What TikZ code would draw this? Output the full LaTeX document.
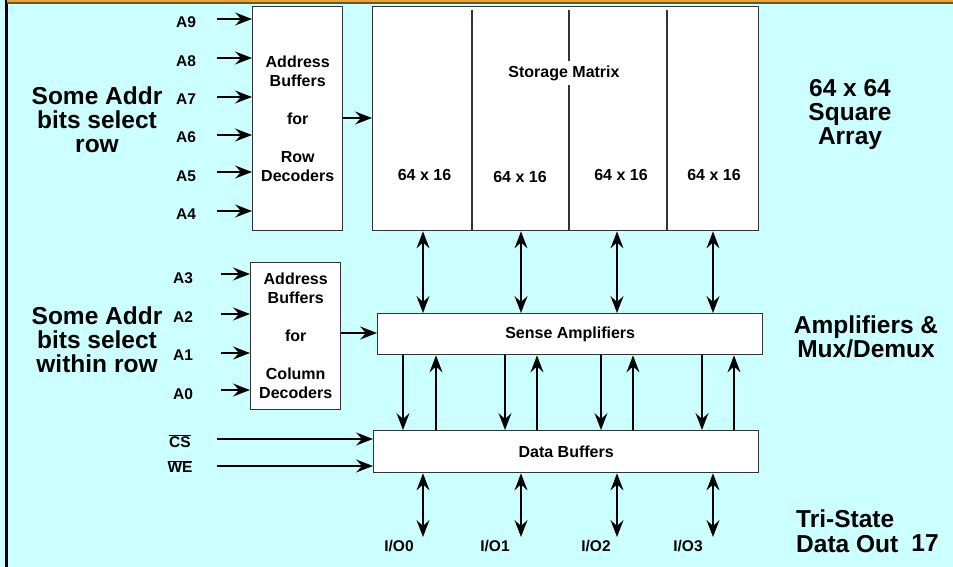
\documentclass[tikz,border=0pt]{standalone}
\usepackage{fontspec}
\setmainfont{Liberation Sans}
\usetikzlibrary{arrows.meta}
\definecolor{bg}{HTML}{CCFFFF}
\definecolor{bandO}{HTML}{F0A030}
\definecolor{bandD}{HTML}{6B5A1E}
\definecolor{edgec}{HTML}{333333}
\newcommand\fmid{\fontsize{16}{19}\selectfont\bfseries}
\newcommand\fbig{\fontsize{24.5}{24}\selectfont\bfseries}
\newcommand\flab{\fontsize{15.5}{18}\selectfont\bfseries}
\begin{document}
\begin{tikzpicture}[x=1pt,y=-1pt,
  box/.style={draw=edgec, line width=1.4pt, fill=white, anchor=north west, inner sep=0pt, align=center, font=\fmid},
  lab/.style={inner sep=0pt, font=\flab},
  midtext/.style={inner sep=0pt, font=\fmid},
  bigtext/.style={inner sep=0pt, font=\fbig, align=center},
  arr/.style={-{Stealth[length=17pt,width=13pt,inset=6pt]}, line width=1.3pt},
  dbl/.style={{Stealth[length=17pt,width=13pt,inset=6pt]}-{Stealth[length=17pt,width=13pt,inset=6pt]}, line width=1.3pt},
  divider/.style={draw=edgec, line width=1.4pt}]
% background and frame
\useasboundingbox (0,0) rectangle (953,567);
\fill[bg] (0,0) rectangle (953,567);
\fill[black] (4.5,0) rectangle (7.5,567);
\fill[bandO] (7,0) rectangle (953,1.6);
\fill[bandD] (7,1.6) rectangle (953,4);

% boxes
\node[box, minimum width=90pt, minimum height=224pt] (rowbuf) at (252,6)
  {Address\\Buffers\\[19pt]for\\[19pt]Row\\Decoders};
\node[box, minimum width=386pt, minimum height=224pt] (mat) at (372,6) {};
\node[box, minimum width=90pt, minimum height=147pt] (colbuf) at (250,262)
  {Address\\Buffers\\[19pt]for\\[19pt]Column\\Decoders};
\node[box, minimum width=385pt, minimum height=41pt] (sense) at (377,313) {Sense Amplifiers};
\node[box, minimum width=385pt, minimum height=42pt] (data) at (373,430) {Data Buffers};

% matrix dividers and texts
\draw[divider] (472,10) -- (472,0 |- mat.south);
\draw[divider] (569,10) -- (569,0 |- mat.south);
\draw[divider] (667,10) -- (667,0 |- mat.south);
\node[midtext, fill=white, inner ysep=5pt] (smat) at (564,73) {Storage Matrix};
\node[midtext] (m1) at (424.5,175) {64 x 16};
\node[midtext] (m2) at (520,177) {64 x 16};
\node[midtext] (m3) at (621,175) {64 x 16};
\node[midtext] (m4) at (714,175) {64 x 16};

% row address inputs
\foreach \n/\ya/\yl in {9/19/22, 8/58/61, 7/97/99, 6/135/137, 5/172/176, 4/211/214}{
  \node[lab] (a\n) at (186,\yl) {A\n};
  \coordinate (sa\n) at (217,\ya);
  \draw[arr] (sa\n) -- (sa\n -| rowbuf.west);
}
% column address inputs
\foreach \n/\ya/\yl in {3/274/278, 2/314/317, 1/353/355, 0/390/394}{
  \node[lab] (a\n) at (183,\yl) {A\n};
  \coordinate (sa\n) at (221,\ya);
  \draw[arr] (sa\n) -- (sa\n -| colbuf.west);
}
% control inputs
\node[lab] (cs) at (180,441) {$\overline{\mbox{CS}}$};
\node[lab] (we) at (180,466.5) {$\overline{\mbox{WE}}$};
\coordinate (scs) at (217,439);
\coordinate (swe) at (217,466);
\draw[arr] (scs) -- (scs -| data.west);
\draw[arr] (swe) -- (swe -| data.west);

% buffer to matrix / sense
\draw[arr] (rowbuf.east |- 0,118) -- (mat.west |- 0,118);
\draw[arr] (colbuf.east |- 0,333) -- (sense.west |- 0,333);

% matrix <-> sense amplifiers, data buffers <-> I/O
\foreach \x/\i/\lx in {423/0/399, 521/1/495, 617/2/596, 713/3/688}{
  \draw[dbl] (\x,0 |- mat.south) -- (\x,0 |- sense.north);
  \coordinate (io\i) at (\x,537);
  \draw[dbl] (\x,0 |- data.south) -- (io\i);
  \node[lab] (iol\i) at (\lx,546) {I/O\i};
}
% sense -> data (down) and data -> sense (up)
\foreach \x in {403,505,601,702}{
  \draw[arr] (\x,0 |- sense.south) -- (\x,0 |- data.north);
}
\foreach \x in {436,537,633,734}{
  \draw[arr] (\x,0 |- data.north) -- (\x,0 |- sense.south);
}

% side captions
\node[bigtext] (lrow) at (97,120) {Some Addr\\bits select\\row};
\node[bigtext] (lcol) at (97,340) {Some Addr\\bits select\\within row};
\node[bigtext] (rarr) at (850,114) {64 x 64\\Square\\Array};
\node[bigtext] (ramp) at (866,337) {Amplifiers \&\\Mux/Demux};
\node[bigtext, align=left, anchor=west, font=\fontsize{24.5}{25}\selectfont\bfseries] (rtri) at (796,531) {Tri-State\\Data Out};
\node[bigtext] (pnum) at (925,543) {17};
\end{tikzpicture}
\end{document}
